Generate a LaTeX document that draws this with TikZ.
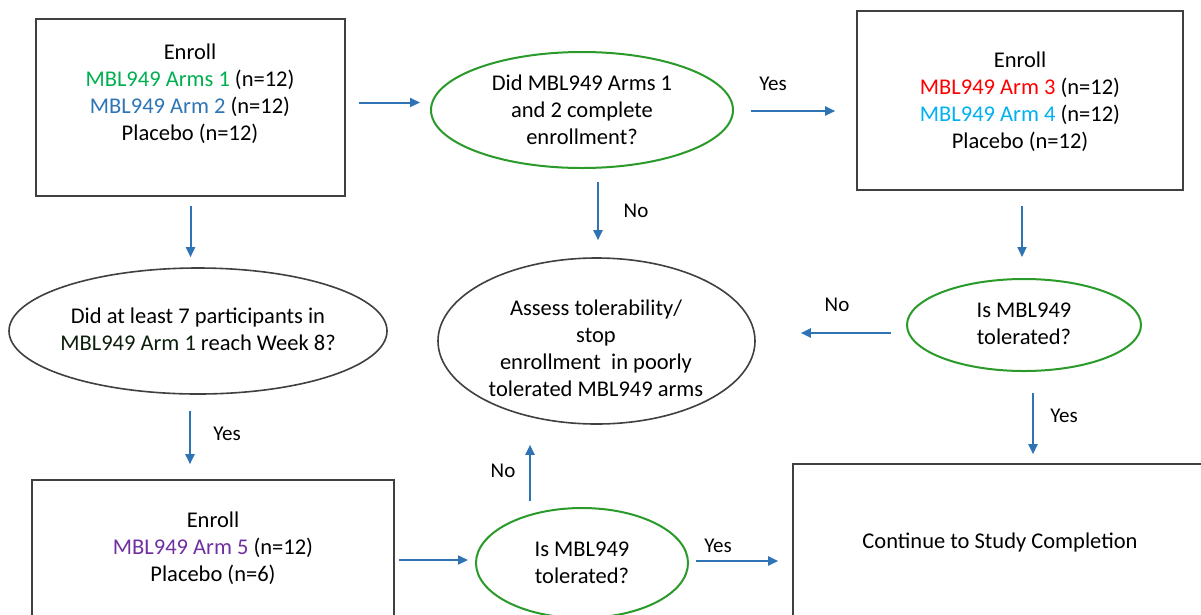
\documentclass[tikz,border=0pt]{standalone}
\usepackage{fontspec}
\setmainfont{Carlito}
\usetikzlibrary{shapes.geometric,arrows.meta}
\definecolor{armgreen}{HTML}{00B050}
\definecolor{armblue}{HTML}{2E75B6}
\definecolor{armred}{HTML}{FF0000}
\definecolor{armcyan}{HTML}{00B0F0}
\definecolor{armpurple}{HTML}{7030A0}
\definecolor{darkarm}{HTML}{0C1E0C}
\definecolor{ringgreen}{HTML}{2A9A2A}
\definecolor{arrblue}{HTML}{2E74B5}
\definecolor{boxgray}{HTML}{404040}
\tikzset{
  every node/.style={font=\fontsize{22.5}{27}\selectfont, inner sep=0pt},
  boxnode/.style={draw=boxgray, line width=1.6pt, rectangle},
  txt/.style={align=center},
  greenell/.style={ellipse, draw=ringgreen, line width=2pt},
  grayell/.style={ellipse, draw=boxgray, line width=1.6pt},
  arr/.style={draw=arrblue, line width=2pt, -{Triangle[length=10pt,width=9pt]}},
  lbl/.style={font=\fontsize{21}{25}\selectfont}
}
\begin{document}
\begin{tikzpicture}[x=1pt,y=-1pt]
\clip (0,0) rectangle (1201,614);
\fill[white] (0,0) rectangle (1201,614);

% shapes
\node[boxnode, minimum width=309, minimum height=177] (b1) at (190.5,107.5) {};
\node[txt] (b1t) at (190,94) {Enroll\\\textcolor{armgreen}{MBL949 Arms 1} (n=12)\\\textcolor{armblue}{MBL949 Arm 2} (n=12)\\Placebo (n=12)};

\node[greenell, minimum width=302, minimum height=116] (e1) at (582,110) {};
\node[txt] (e1t) at (582,110) {Did MBL949 Arms 1\\and 2 complete\\enrollment?};

\node[boxnode, minimum width=326, minimum height=179] (b2) at (1020,100.5) {};
\node[txt] (b2t) at (1020,101.5) {Enroll\\\textcolor{armred}{MBL949 Arm 3} (n=12)\\\textcolor{armcyan}{MBL949 Arm 4} (n=12)\\Placebo (n=12)};

\node[grayell, minimum width=378, minimum height=126] (e2) at (198,331) {};
\node[txt] (e2t) at (198,329.5) {Did at least 7 participants in\\\textcolor{darkarm}{MBL949 Arm 1} reach Week 8?};

\node[grayell, minimum width=317, minimum height=166] (e3) at (596.5,341) {};
\node[txt] (e3t) at (596,348.5) {Assess tolerability/\\stop\\enrollment\ \ in poorly\\tolerated MBL949 arms};

\node[greenell, minimum width=234, minimum height=92] (e4) at (1024,325) {};
\node[txt] (e4t) at (1024,324) {Is MBL949\\tolerated?};

\node[boxnode, minimum width=362, minimum height=136] (b3) at (213,548) {};
\node[txt] (b3t) at (213,548.5) {Enroll\\\textcolor{armpurple}{MBL949 Arm 5} (n=12)\\Placebo (n=6)};

\node[greenell, minimum width=212, minimum height=110] (e5) at (582,563) {};
\node[txt] (e5t) at (582,563) {Is MBL949\\tolerated?};

\node[boxnode, minimum width=420, minimum height=156] (b4) at (1003,542) {};
\node[txt] (b4t) at (1000,542) {Continue to Study Completion};

% connector anchor points
\coordinate (c1) at ([xshift=13,yshift=5]b1.east);
\coordinate (c2) at ([xshift=17,yshift=-1]e1.east);
\coordinate (c3) at ([xshift=-15,yshift=-8]e4.west);
\coordinate (c4) at ([xshift=4,yshift=-12]b3.east);
\coordinate (c5) at ([xshift=7,yshift=2]e5.east);
\coordinate (c6) at ([xshift=-52,yshift=6]e5.north);
\coordinate (c7) at ([xshift=9,yshift=-21]e4.south);
\coordinate (c8) at ([xshift=16,yshift=-13]e1.south);
\coordinate (c9) at ([yshift=-9]b1.south);
\coordinate (c10) at ([xshift=-8,yshift=-16]e2.south);
\coordinate (c11) at ([xshift=2,yshift=-15]b2.south);

% connectors
\draw[arr] (c1) -- ([xshift=-10]e1.west |- c1);
\draw[arr] (c2) -- ([xshift=-21]b2.west |- c2);
\node[lbl] (ly1) at (773,84) {Yes};
\draw[arr] (c8) -- ([yshift=17]c8 |- e3.north);
\node[lbl] (ln1) at (636,211) {No};
\draw[arr] (c9) -- ([yshift=10]c9 |- e2.north);
\draw[arr] (c10) -- ([yshift=15]c10 |- b3.north);
\node[lbl] (ly2) at (227,434) {Yes};
\draw[arr] (c11) -- ([yshift=21]c11 |- e4.north);
\draw[arr] (c3) -- ([xshift=45]e3.east |- c3);
\node[lbl] (ln2) at (837,305) {No};
\draw[arr] (c7) -- ([yshift=9]c7 |- b4.north);
\node[lbl] (ly3) at (1064,416) {Yes};
\draw[arr] (c4) -- ([xshift=-7]e5.west |- c4);
\draw[arr] (c5) -- ([xshift=-14]b4.west |- c5);
\node[lbl] (ly4) at (718,546) {Yes};
\draw[arr] (c6) -- ([yshift=-20]c6 |- e3.south);
\node[lbl] (ln3) at (503,471) {No};
\end{tikzpicture}
\end{document}
